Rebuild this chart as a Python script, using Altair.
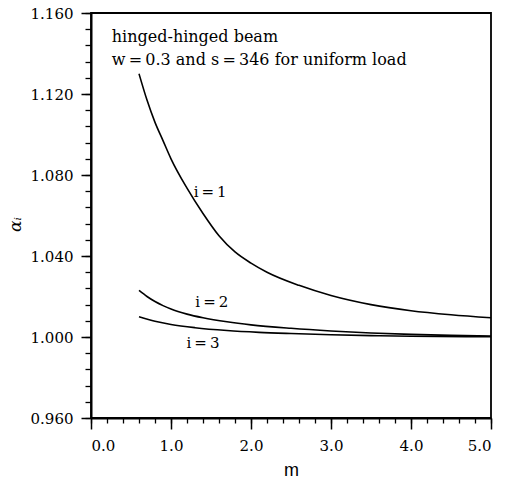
import altair as alt
import pandas as pd

# ---- data ----
m_i1 = [0.6, 0.7, 0.8, 0.9, 1.0, 1.2, 1.4, 1.6, 1.8, 2.0, 2.2, 2.6, 3.0, 3.5, 4.0, 4.5, 5.0]
a_i1 = [1.130, 1.117, 1.106, 1.097, 1.088, 1.0735, 1.061, 1.050, 1.042, 1.0365, 1.032,
        1.0255, 1.0205, 1.016, 1.013, 1.011, 1.0095]
m_i2 = [0.6, 0.7, 0.8, 0.9, 1.0, 1.2, 1.4, 1.7, 2.0, 2.5, 3.0, 3.5, 4.0, 4.5, 5.0]
a_i2 = [1.023, 1.0200, 1.0175, 1.0155, 1.0138, 1.0113, 1.0095, 1.0075, 1.006, 1.0043,
        1.003, 1.002, 1.0013, 1.0008, 1.0005]
m_i3 = [0.6, 0.8, 1.0, 1.3, 1.7, 2.1, 2.5, 3.0, 3.5, 4.0, 5.0]
a_i3 = [1.010, 1.0078, 1.0062, 1.0046, 1.0032, 1.0023, 1.0017, 1.0011, 1.0007, 1.0004, 1.0001]

x_major = [0.0, 1.0, 2.0, 3.0, 4.0, 5.0]
x_minor = [round(i * 0.2, 1) for i in range(26)]
y_major = [0.960, 1.000, 1.040, 1.080, 1.120, 1.160]
y_minor = [round(0.960 + i * 0.008, 3) for i in range(26)]

curve_labels = ["i\u2009=\u20091", "i\u2009=\u20092", "i\u2009=\u20093"]
curve_label_m = [1.49, 1.51, 1.40]
curve_label_a = [1.0716, 1.0173, 0.9970]

note_lines = ["hinged-hinged beam", "w\u2009=\u20090.3 and s\u2009=\u2009346 for uniform load"]
note_m = [0.26, 0.26]
note_a = [1.1457, 1.1343]

rows = []
for name, ms, vs in [("1", m_i1, a_i1), ("2", m_i2, a_i2), ("3", m_i3, a_i3)]:
    for mm, vv in zip(ms, vs):
        rows.append({"i": name, "m": mm, "a": vv})
df = pd.DataFrame(rows)
lab_df = pd.DataFrame({"t": curve_labels, "m": curve_label_m, "a": curve_label_a})
note_df = pd.DataFrame({"t": note_lines, "m": note_m, "a": note_a})

SERIF = "DejaVu Serif"
xs = alt.Scale(domain=[0, 5], nice=False, zero=False)
ys = alt.Scale(domain=[0.96, 1.16], nice=False, zero=False)

x_axis = alt.Axis(values=x_major, format=".1f", orient="bottom", tickSize=11, tickWidth=1.5,
                  domainWidth=2, domainColor="black", tickColor="black", labelFont=SERIF,
                  labelFontSize=15, labelColor="black", labelPadding=9, grid=False,
                  title="m", titleFont="Liberation Sans", titleFontSize=18, titleFontWeight="normal",
                  titleColor="black", titlePadding=8)
y_axis = alt.Axis(values=y_major, format=".3f", orient="left", tickSize=10, tickWidth=1.5,
                  domainWidth=2, domainColor="black", tickColor="black", labelFont=SERIF,
                  labelFontSize=15, labelColor="black", labelPadding=8, grid=False,
                  title="αᵢ", titleFont=SERIF, titleFontSize=17, titleFontStyle="italic",
                  titleFontWeight="normal", titleColor="black", titleX=-76, titleY=211,
                  titleAlign="center", titleBaseline="middle", titleAngle=270)
x_axis_minor = alt.Axis(values=x_minor, orient="bottom", tickSize=5, tickWidth=1.3, labels=False,
                        domain=False, tickColor="black", grid=False, title=None)
y_axis_minor = alt.Axis(values=y_minor, orient="left", tickSize=6, tickWidth=1.3, labels=False,
                        domain=False, tickColor="black", grid=False, title=None)

lines = alt.Chart(df).mark_line(color="black", strokeWidth=1.6, interpolate="monotone").encode(
    x=alt.X("m:Q", scale=xs, axis=x_axis),
    y=alt.Y("a:Q", scale=ys, axis=y_axis),
    detail="i:N",
)
minor = alt.Chart(df).mark_point(opacity=0).encode(
    x=alt.X("m:Q", scale=xs, axis=x_axis_minor),
    y=alt.Y("a:Q", scale=ys, axis=y_axis_minor),
)
labels = alt.Chart(lab_df).mark_text(font=SERIF, fontSize=15, color="black", align="center",
                                     baseline="middle").encode(
    x=alt.X("m:Q", scale=xs, axis=None), y=alt.Y("a:Q", scale=ys, axis=None), text="t:N")
notes = alt.Chart(note_df).mark_text(font=SERIF, fontSize=16, color="black", align="left",
                                     baseline="alphabetic").encode(
    x=alt.X("m:Q", scale=xs, axis=None), y=alt.Y("a:Q", scale=ys, axis=None), text="t:N")

chart = alt.layer(lines, minor, labels, notes).resolve_axis(
    x="independent", y="independent"
).properties(
    width=400, height=405,
    autosize=alt.AutoSizeParams(type="none"),
    padding={"left": 91, "top": 13, "right": 15, "bottom": 61},
    background="white",
).configure_view(stroke="black", strokeWidth=1.8)

chart.save("out.html", embed_options={"renderer": "svg", "actions": False})
